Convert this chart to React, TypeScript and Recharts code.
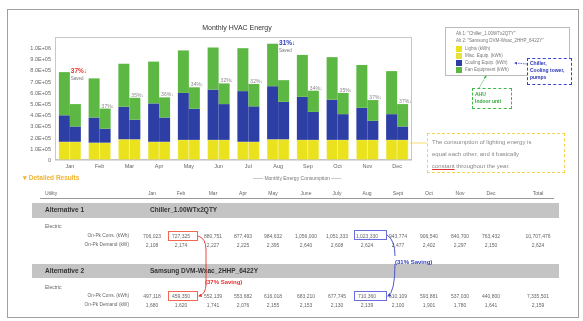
import React from 'react';
import { BarChart, Bar, XAxis, YAxis, LabelList } from 'recharts';

const months = ['Jan', 'Feb', 'Mar', 'Apr', 'May', 'Jun', 'Jul', 'Aug', 'Sep', 'Oct', 'Nov', 'Dec'];

// kWh per month
const lights = [163000, 155000, 185000, 163000, 180000, 180000, 163000, 185000, 180000, 180000, 180000, 180000];
const alt1Cooling = [237000, 225000, 291000, 343000, 420000, 450000, 453000, 475000, 385000, 360000, 287000, 230000];
const alt1Fans = [386000, 350000, 384000, 374000, 380000, 376000, 384000, 380000, 375000, 380000, 383000, 385000];
const alt2Cooling = [137000, 125000, 175000, 217000, 278000, 320000, 317000, 335000, 250000, 230000, 170000, 120000];
const alt2Fans = [200000, 180000, 196000, 180000, 192000, 185000, 200000, 194000, 190000, 190000, 186000, 200000];

const savingLabels = ['37%↓', '37%↓', '35%↓', '36%↓', '34%↓', '32%↓', '32%↓', '31%↓', '34%↓', '35%↓', '37%↓', '37%↓'];
const savingHighlight = ['#e8322c', '', '', '', '', '', '', '#2b3bb8', '', '', '', ''];

const yTicks = [0, 100000, 200000, 300000, 400000, 500000, 600000, 700000, 800000, 900000, 1000000];
const yTickLabels = ['0', '1.0E+05', '2.0E+05', '3.0E+05', '4.0E+05', '5.0E+05', '6.0E+05', '7.0E+05', '8.0E+05', '9.0E+05', '1.0E+06'];

// detailed results table
const tableCols = ['Jan', 'Feb', 'Mar', 'Apr', 'May', 'June', 'July', 'Aug', 'Sept', 'Oct', 'Nov', 'Dec', 'Total'];
const alt1Cons = ['706,023', '727,325', '880,751', '877,493', '984,632', '1,056,000', '1,051,333', '1,023,330', '943,774', '906,540', '840,700', '763,432', '10,707,476'];
const alt1Demand = ['2,108', '2,174', '2,227', '2,225', '2,395', '2,640', '2,608', '2,624', '2,477', '2,402', '2,297', '2,150', '2,624'];
const alt2Cons = ['497,118', '459,350', '552,139', '553,682', '616,018', '683,210', '677,745', '710,360', '610,109', '593,881', '537,030', '440,800', '7,335,501'];
const alt2Demand = ['1,680', '1,620', '1,741', '2,076', '2,155', '2,153', '2,130', '2,139', '2,100', '1,901', '1,780', '1,641', '2,159'];

const colX = [152, 181, 213, 243, 273, 306, 337, 367, 398, 429, 460, 491, 538];

const YELLOW = '#ebe21e';
const BLUE = '#2d3ea4';
const GREEN = '#5cb843';
const FONT = '"Liberation Sans", Arial, sans-serif';

const chartData = months.map((m, i) => ({
  month: m,
  l1: lights[i],
  c1: alt1Cooling[i],
  f1: alt1Fans[i],
  l2: lights[i],
  c2: alt2Cooling[i],
  f2: alt2Fans[i],
}));

const HighlightLabel = (props: any) => {
  const { x, y, width, index } = props;
  const color = savingHighlight[index];
  if (!color) return null;
  const lx = x + width + 1;
  return (
    <g>
      <text x={lx} y={y + 1} fontSize={6.5} fontWeight={700} fill={color} fontFamily={FONT}>{savingLabels[index]}</text>
      <text x={lx} y={y + 8} fontSize={4.5} fill="#777" fontFamily={FONT}>Saved</text>
    </g>
  );
};

const SmallLabel = (props: any) => {
  const { x, y, index } = props;
  if (savingHighlight[index]) return null;
  return (
    <text x={x + 2} y={y - 1} fontSize={5} fill="#888" fontFamily={FONT}>{savingLabels[index]}</text>
  );
};

const Txt = ({ x, y, size = 5, color = '#666', bold = false, anchor = 'left', children }: any) => {
  const style: React.CSSProperties = {
    position: 'absolute',
    top: y,
    fontSize: size,
    lineHeight: 1,
    color,
    fontWeight: bold ? 700 : 400,
    whiteSpace: 'nowrap',
    fontFamily: FONT,
  };
  if (anchor === 'center') {
    style.left = x;
    style.transform = 'translateX(-50%)';
  } else if (anchor === 'right') {
    style.right = 583 - x;
  } else {
    style.left = x;
  }
  return <div style={style}>{children}</div>;
};

const ValueRow = ({ values, y }: { values: string[]; y: number }) => (
  <>
    {values.map((v, i) => (
      <Txt key={i} x={colX[i]} y={y} size={5} color="#666" anchor="center">{v}</Txt>
    ))}
  </>
);

const LegendSwatch = ({ y, color, label }: { y: number; color: string; label: string }) => (
  <>
    <div style={{ position: 'absolute', left: 456, top: y, width: 6, height: 6, background: color }} />
    <Txt x={465} y={y + 1} size={4.5} color="#777">{label}</Txt>
  </>
);

export default function App() {
  return (
    <div style={{ position: 'fixed', left: 0, top: 0, width: 583, height: 321, background: '#fff', overflow: 'hidden', filter: 'blur(0.35px)' }}>
      <div style={{ position: 'absolute', left: 7, top: 9, width: 570, height: 307, border: '1px solid #a0a0a0' }} />

      {/* plot frame */}
      <div style={{ position: 'absolute', left: 55, top: 37, width: 357, height: 123, border: '1px solid #c8c8c8', boxSizing: 'border-box' }} />

      <div style={{ position: 'absolute', left: 0, top: 0 }}>
        <BarChart
          width={583}
          height={321}
          data={chartData}
          margin={{ top: 37, right: 171, bottom: 149, left: 10 }}
          barCategoryGap="13%"
          barGap={0}
        >
          <XAxis
            dataKey="month"
            tickLine={false}
            tickSize={0}
            tickMargin={4}
            height={12}
            axisLine={{ stroke: '#bbb' }}
            tick={{ fontSize: 5.5, fill: '#666', fontFamily: FONT }}
            interval={0}
          />
          <YAxis
            width={45}
            domain={[0, 1100000]}
            ticks={yTicks}
            tickFormatter={(v: number) => yTickLabels[yTicks.indexOf(v)]}
            tickLine={false}
            tickSize={0}
            tickMargin={4}
            axisLine={false}
            tick={{ fontSize: 5.5, fill: '#666', fontFamily: FONT }}
            interval={0}
          />
          <Bar dataKey="l1" stackId="a1" fill={YELLOW} stroke="#fff" strokeWidth={0.3} isAnimationActive={false} />
          <Bar dataKey="c1" stackId="a1" fill={BLUE} isAnimationActive={false} />
          <Bar dataKey="f1" stackId="a1" fill={GREEN} isAnimationActive={false}>
            <LabelList dataKey="month" content={HighlightLabel} />
          </Bar>
          <Bar dataKey="l2" stackId="a2" fill={YELLOW} stroke="#fff" strokeWidth={0.3} isAnimationActive={false} />
          <Bar dataKey="c2" stackId="a2" fill={BLUE} isAnimationActive={false} />
          <Bar dataKey="f2" stackId="a2" fill={GREEN} isAnimationActive={false}>
            <LabelList dataKey="month" content={SmallLabel} />
          </Bar>
        </BarChart>
      </div>

      <Txt x={237} y={24} size={7} color="#333" anchor="center">Monthly HVAC Energy</Txt>

      {/* legend box */}
      <div style={{ position: 'absolute', left: 445, top: 27, width: 125, height: 49, border: '1px solid #bbb', boxSizing: 'border-box', background: '#fff' }} />
      <Txt x={456} y={32} size={4.5} color="#777">Alt 1: "Chiller_1.00WTx2QTY"</Txt>
      <Txt x={456} y={39} size={4.5} color="#777">Alt 2: "Samsung DVM-Wxac_2HHP_6422Y"</Txt>
      <LegendSwatch y={46} color={YELLOW} label="Lights (kWh)" />
      <LegendSwatch y={53} color="#e6e040" label="Misc. Equip. (kWh)" />
      <LegendSwatch y={60} color={BLUE} label="Cooling Equip. (kWh)" />
      <LegendSwatch y={67} color={GREEN} label="Fan Equipment (kWh)" />

      <div style={{ position: 'absolute', left: 527, top: 58, width: 45, height: 27, border: '1px dashed #3b44c8', boxSizing: 'border-box', background: '#fff' }} />
      <Txt x={530} y={61} size={5} color="#2d36b8" bold>Chiller,</Txt>
      <Txt x={530} y={68} size={5} color="#2d36b8" bold>Cooling tower,</Txt>
      <Txt x={530} y={75} size={5} color="#2d36b8" bold>pumps</Txt>

      <div style={{ position: 'absolute', left: 472, top: 88, width: 40, height: 21, border: '1px dashed #3fba4a', boxSizing: 'border-box' }} />
      <Txt x={475} y={92} size={5} color="#35a83d" bold>AHU</Txt>
      <Txt x={475} y={99} size={5} color="#35a83d" bold>Indoor unit</Txt>

      <div style={{ position: 'absolute', left: 427, top: 133, width: 138, height: 40, border: '1px dashed #f3d34a', boxSizing: 'border-box' }} />
      <Txt x={432} y={139} size={6} color="#888">The consumption of lighting energy is</Txt>
      <Txt x={432} y={151} size={6} color="#888">equal each other, and it basically</Txt>
      <Txt x={432} y={163} size={6} color="#888">
        <span style={{ textDecoration: 'underline', textDecorationColor: '#e03030' }}>constant</span> throughout the year.
      </Txt>

      <Txt x={253} y={176} size={5} color="#777">—— Monthly Energy Consumption ——</Txt>

      {/* detailed results */}
      <Txt x={23} y={175} size={6.5} color="#f2b230" bold>▾ Detailed Results</Txt>
      <Txt x={45} y={191} size={5} color="#666">Utility</Txt>
      {tableCols.map((c, i) => (
        <Txt key={c} x={colX[i]} y={191} size={5} color="#666" anchor="center">{c}</Txt>
      ))}
      <div style={{ position: 'absolute', left: 40, top: 198, width: 514, height: 1, background: '#999' }} />

      <div style={{ position: 'absolute', left: 32, top: 203, width: 527, height: 15, background: '#c4c4c4' }} />
      <Txt x={45} y={207} size={6.5} color="#333" bold>Alternative 1</Txt>
      <Txt x={150} y={207} size={6.5} color="#333" bold>Chiller_1.00WTx2QTY</Txt>
      <Txt x={45} y={224} size={5} color="#666">Electric</Txt>
      <Txt x={129} y={234} size={4.8} color="#666" anchor="right">On-Pk Cons. (kWh)</Txt>
      <Txt x={129} y={243} size={4.8} color="#666" anchor="right">On-Pk Demand (kW)</Txt>
      <ValueRow values={alt1Cons} y={234} />
      <ValueRow values={alt1Demand} y={243} />

      <div style={{ position: 'absolute', left: 32, top: 264, width: 527, height: 14, background: '#c4c4c4' }} />
      <Txt x={45} y={268} size={6.5} color="#333" bold>Alternative 2</Txt>
      <Txt x={150} y={268} size={6.5} color="#333" bold>Samsung DVM-Wxac_2HHP_6422Y</Txt>
      <Txt x={45} y={285} size={5} color="#666">Electric</Txt>
      <Txt x={129} y={294} size={4.8} color="#666" anchor="right">On-Pk Cons. (kWh)</Txt>
      <Txt x={129} y={303} size={4.8} color="#666" anchor="right">On-Pk Demand (kW)</Txt>
      <ValueRow values={alt2Cons} y={294} />
      <ValueRow values={alt2Demand} y={303} />

      {/* highlight boxes */}
      <div style={{ position: 'absolute', left: 168, top: 231, width: 30, height: 10, border: '1px solid #ef6a50', boxSizing: 'border-box' }} />
      <div style={{ position: 'absolute', left: 168, top: 291, width: 30, height: 10, border: '1px solid #ef6a50', boxSizing: 'border-box' }} />
      <div style={{ position: 'absolute', left: 354, top: 230, width: 33, height: 10, border: '1px solid #6a6ee0', boxSizing: 'border-box' }} />
      <div style={{ position: 'absolute', left: 354, top: 291, width: 33, height: 10, border: '1px solid #6a6ee0', boxSizing: 'border-box' }} />
      <Txt x={205} y={279} size={6} color="#e8322c" bold>(37% Saving)</Txt>
      <Txt x={395} y={259} size={6} color="#2b3bb8" bold>(31% Saving)</Txt>

      <svg width={583} height={321} style={{ position: 'absolute', left: 0, top: 0, pointerEvents: 'none' }}>
        <defs>
          <marker id="ar" markerWidth="4" markerHeight="4" refX="3" refY="2" orient="auto">
            <path d="M0,0 L4,2 L0,4 z" fill="#e8322c" />
          </marker>
          <marker id="ab" markerWidth="4" markerHeight="4" refX="3" refY="2" orient="auto">
            <path d="M0,0 L4,2 L0,4 z" fill="#3b44c8" />
          </marker>
          <marker id="ag" markerWidth="4" markerHeight="4" refX="3" refY="2" orient="auto">
            <path d="M0,0 L4,2 L0,4 z" fill="#3fba4a" />
          </marker>
        </defs>
        <path d="M198,236 Q206,238 206,250 L206,284 Q206,294 199,296" fill="none" stroke="#e8322c" strokeWidth={0.9} markerEnd="url(#ar)" />
        <path d="M387,235 Q395,240 395,256 M395,264 Q395,292 388,296" fill="none" stroke="#3b44c8" strokeWidth={0.9} markerEnd="url(#ab)" />
        <path d="M527,64 L515,63" fill="none" stroke="#3b44c8" strokeWidth={0.8} strokeDasharray="1.5 1" markerEnd="url(#ab)" />
        <path d="M479,88 L486,76" fill="none" stroke="#3fba4a" strokeWidth={0.8} strokeDasharray="1.5 1" markerEnd="url(#ag)" />
        <path d="M427,143 L410,143" fill="none" stroke="#f3d34a" strokeWidth={0.8} />
      </svg>
    </div>
  );
}
